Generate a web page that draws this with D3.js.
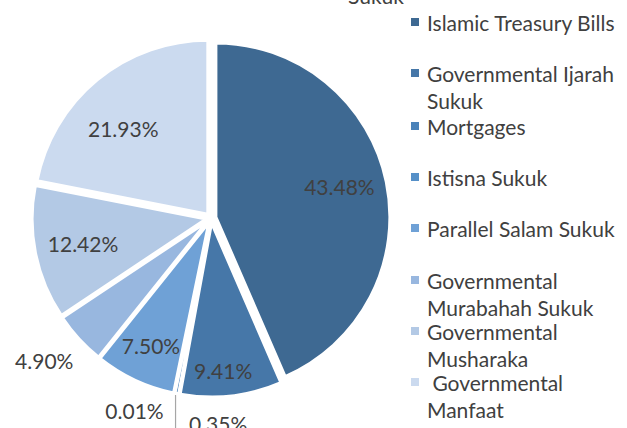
<!DOCTYPE html>
<html>
<head>
<meta charset="utf-8">
<script src="https://cdn.jsdelivr.net/npm/d3@7"></script>
<style>
html,body{margin:0;padding:0;background:#fff;}
svg{display:block;}
text{font-family:Lato,"Open Sans",sans-serif;}
</style>
</head>
<body>
<svg id="chart" width="627" height="428"></svg>
<script>
// ---- data ----
const categories = [
  "Islamic Treasury Bills",
  "Governmental Ijarah Sukuk",
  "Mortgages",
  "Istisna Sukuk",
  "Parallel Salam Sukuk",
  "Governmental Murabahah Sukuk",
  "Governmental Musharaka",
  " Governmental Manfaat"
];
const shares = [43.48, 9.41, 0.35, 0.01, 7.50, 4.90, 12.42, 21.93];
const labels = ["43.48%", "9.41%", "0.35%", "0.01%", "7.50%", "4.90%", "12.42%", "21.93%"];
const legendLines = [
  ["Islamic Treasury Bills"],
  ["Governmental Ijarah", "Sukuk"],
  ["Mortgages"],
  ["Istisna Sukuk"],
  ["Parallel Salam Sukuk"],
  ["Governmental", "Murabahah Sukuk"],
  ["Governmental", "Musharaka"],
  [" Governmental", "Manfaat"]
];
const colors = ["#3e6992", "#4677a8", "#4a82b9", "#5690c8", "#6fa1d6", "#98b7df", "#b3c9e5", "#cbdaef"];
const titleText = "Sukuk";

// ---- layout (style, not data) ----
const cx = 211, cy = 218, R = 174, explode = 5;
// label placement: radius factor and angle shift (deg) per slice
const labelR = [0.76, 0.88, 1.18, 1.19, 0.81, 1.26, 0.75, 0.72];
const labelShift = [-2, 2, -13, 10, 0, 2, 0, -5];

const svg = d3.select("#chart");
const pie = d3.pie().sort(null).value(d => d)
  .startAngle(0).endAngle(2 * Math.PI);
const arcs = pie(shares);
const arcGen = d3.arc().innerRadius(0).outerRadius(R);

const g = svg.append("g").attr("transform", `translate(${cx},${cy})`);

// leader line for tiny slices
(function(){
  const a = arcs[2];
  const mid = (a.startAngle + a.endAngle) / 2;
  const ox = Math.sin(mid) * explode, oy = -Math.cos(mid) * explode;
  const x = ox + Math.sin(mid) * (R + 1) - 1;
  const y = oy - Math.cos(mid) * (R + 1);
  g.append("line")
    .attr("x1", x).attr("y1", y)
    .attr("x2", x).attr("y2", 428 - cy + 5)
    .attr("stroke", "#a6a6a6").attr("stroke-width", 1.2);
})();

g.selectAll("path.slice").data(arcs).enter().append("path")
  .attr("class", "slice")
  .attr("d", arcGen)
  .attr("transform", d => {
    const m = (d.startAngle + d.endAngle) / 2;
    return `translate(${Math.sin(m) * explode},${-Math.cos(m) * explode})`;
  })
  .attr("fill", (d, i) => colors[i])
  .attr("stroke", "#fff")
  .attr("stroke-width", 3)
  .attr("stroke-linejoin", "miter");

g.selectAll("text.lbl").data(arcs).enter().append("text")
  .attr("class", "lbl")
  .attr("x", (d, i) => {
    const m = (d.startAngle + d.endAngle) / 2 + labelShift[i] * Math.PI / 180;
    return Math.sin(m) * R * labelR[i];
  })
  .attr("y", (d, i) => {
    const m = (d.startAngle + d.endAngle) / 2 + labelShift[i] * Math.PI / 180;
    return -Math.cos(m) * R * labelR[i];
  })
  .attr("text-anchor", "middle")
  .attr("dominant-baseline", "central")
  .attr("font-size", 21)
  .attr("fill", "#404040")
  .text((d, i) => labels[i]);

// title (cut off at top, as in the reference)
svg.append("text").attr("x", 348).attr("y", 4)
  .attr("font-size", 21).attr("fill", "#404040").text(titleText);

// legend
const legendY = [22, 73, 126, 177, 228, 280, 331, 382];
const lg = svg.append("g");
categories.forEach((c, i) => {
  lg.append("rect").attr("x", 411).attr("y", legendY[i] - 4)
    .attr("width", 8).attr("height", 8).attr("fill", colors[i]);
  legendLines[i].forEach((t, j) => {
    lg.append("text").attr("x", 427).attr("y", legendY[i] + j * 27)
      .attr("dominant-baseline", "central")
      .attr("font-size", 21).attr("fill", "#404040")
      .attr("xml:space", "preserve").style("white-space", "pre")
      .text(t);
  });
});
</script>
</body>
</html>
